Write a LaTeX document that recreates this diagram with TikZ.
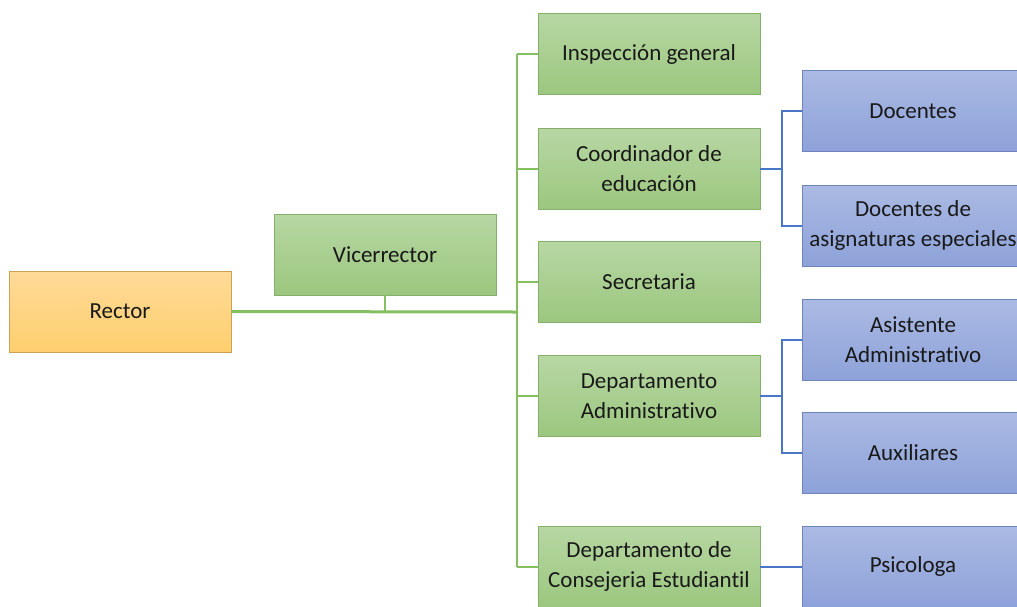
\documentclass[tikz,border=0pt]{standalone}
\usepackage{fontspec}
\setmainfont{Carlito}[Ligatures=NoCommon]
\usetikzlibrary{positioning}

\definecolor{gtop}{HTML}{B7D7A3}
\definecolor{gbot}{HTML}{9CC77F}
\definecolor{gedge}{HTML}{86AE6C}
\definecolor{btop}{HTML}{ABBAE3}
\definecolor{bbot}{HTML}{8DA2D9}
\definecolor{bedge}{HTML}{6F84BC}
\definecolor{otop}{HTML}{FFDA98}
\definecolor{obot}{HTML}{FECF6E}
\definecolor{oedge}{HTML}{C7A257}
\definecolor{gwire}{HTML}{86BE62}
\definecolor{bwire}{HTML}{4A76C6}

\tikzset{
  box/.style={draw,line width=0.8pt,minimum width=222pt,minimum height=81pt,
    inner sep=0pt,align=center,text=black!90,
    font=\fontsize{23}{30}\selectfont},
  gbox/.style={box,draw=gedge,top color=gtop,bottom color=gbot},
  bbox/.style={box,draw=bedge,top color=btop,bottom color=bbot},
  obox/.style={box,draw=oedge,top color=otop,bottom color=obot},
  gline/.style={draw=gwire,line width=2pt},
  bline/.style={draw=bwire,line width=2pt}
}

\begin{document}
\begin{tikzpicture}[x=1pt,y=-1pt]
\useasboundingbox (0,0) rectangle (1017,606);

\node[obox] (rector) at (120,311.5) {Rector};
\node[gbox] (vice) at (385,254.5) {Vicerrector};

% second level
\node[gbox] (insp) at (649,54) {Inspección general};
\node[gbox] (coord) at (649,168.5) {Coordinador de\\educación};
\node[gbox] (secr) at (649,282) {Secretaria};
\node[gbox] (dadm) at (649,396) {Departamento\\Administrativo};
\node[gbox] (cons) at (649,566.5) {Departamento de\\Consejeria Estudiantil};

% third level
\node[bbox] (doc) at (913,111) {Docentes};
\node[bbox] (dae) at (913,225.5) {Docentes de\\asignaturas especiales};
\node[bbox] (asis) at (913,340) {Asistente\\Administrativo};
\node[bbox] (aux) at (913,453) {Auxiliares};
\node[bbox] (psi) at (913,566.5) {Psicologa};

\coordinate (gbus) at (517,312);
\coordinate (bbus) at (782,0);

\draw[gline,line width=3pt] (rector.east) -- (gbus);
\draw[gline] (vice.south) -- (vice.south |- gbus);
\draw[gline] (insp.west -| gbus) -- (cons.west -| gbus);
\foreach \n in {insp,coord,secr,dadm,cons}
  \draw[gline] (\n.west -| gbus) -- (\n.west);

\draw[bline] (coord.east) -- (coord.east -| bbus) |- (doc.west);
\draw[bline] (coord.east -| bbus) |- (dae.west);
\draw[bline] (dadm.east) -- (dadm.east -| bbus) |- (asis.west);
\draw[bline] (dadm.east -| bbus) |- (aux.west);
\draw[bline] (cons.east) -- (psi.west);

\end{tikzpicture}
\end{document}
